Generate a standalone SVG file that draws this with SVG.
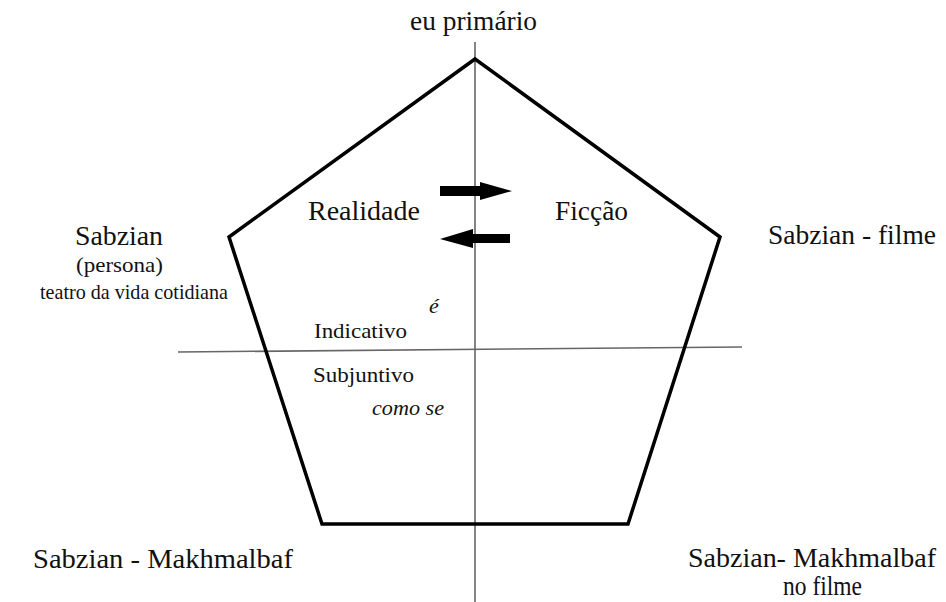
<svg xmlns="http://www.w3.org/2000/svg" width="946" height="602" viewBox="0 0 946 602">
<style>
text{font-family:'Liberation Serif','Times New Roman','DejaVu Serif',serif;fill:#111;}
.b{font-size:28px;}
.m{font-size:27px;}
.s{font-size:22px;}
.i{font-style:italic;}
.axis{stroke:#666;stroke-width:1.6;fill:none;}
.pent{stroke:#000;stroke-width:3.5;fill:none;stroke-linejoin:miter;}
</style>
<rect width="946" height="602" fill="#fff"/>
<g id="connectors">
<line class="axis" x1="475" y1="42" x2="475" y2="602"/>
<line class="axis" x1="178" y1="352" x2="742" y2="347"/>
<polygon id="arrow-right" points="440,186 480,186 480,182 512,191 480,200 480,196 440,196" fill="#000"/>
<polygon id="arrow-left" points="510,234 473,234 473,229 440,239 473,248 473,243 510,243" fill="#000"/>
</g>
<g id="pentagon"><polygon class="pent" points="475,59 720,237 628,524 322,524 229,237"/></g>
<g id="eu-primario"><text class="b" x="410" y="30" textLength="127" lengthAdjust="spacingAndGlyphs">eu primário</text></g>
<g id="realidade"><text class="m" x="308" y="220" textLength="112" lengthAdjust="spacingAndGlyphs">Realidade</text></g>
<g id="ficcao"><text class="m" x="555" y="220" textLength="73" lengthAdjust="spacingAndGlyphs">Ficção</text></g>
<g id="sabzian-persona">
<text class="b" x="75" y="245" textLength="88" lengthAdjust="spacingAndGlyphs">Sabzian</text>
<text class="s" x="76" y="272" textLength="87" lengthAdjust="spacingAndGlyphs">(persona)</text>
<text class="s" x="40" y="299" textLength="188" lengthAdjust="spacingAndGlyphs">teatro da vida cotidiana</text>
</g>
<g id="sabzian-filme"><text class="b" x="768" y="244" textLength="168" lengthAdjust="spacingAndGlyphs">Sabzian - filme</text></g>
<g id="indicativo">
<text class="s i" x="429" y="313">é</text>
<text class="s" x="314" y="338" textLength="93" lengthAdjust="spacingAndGlyphs">Indicativo</text>
</g>
<g id="subjuntivo">
<text class="s" x="313" y="382" textLength="101" lengthAdjust="spacingAndGlyphs">Subjuntivo</text>
<text class="s i" x="372" y="415" textLength="72" lengthAdjust="spacingAndGlyphs">como se</text>
</g>
<g id="sabzian-makhmalbaf"><text class="b" x="33" y="568" textLength="260" lengthAdjust="spacingAndGlyphs">Sabzian - Makhmalbaf</text></g>
<g id="sabzian-makhmalbaf-filme">
<text class="b" x="688" y="567" textLength="248" lengthAdjust="spacingAndGlyphs">Sabzian- Makhmalbaf</text>
<text class="b" x="783" y="595" textLength="79" lengthAdjust="spacingAndGlyphs">no filme</text>
</g>
</svg>
